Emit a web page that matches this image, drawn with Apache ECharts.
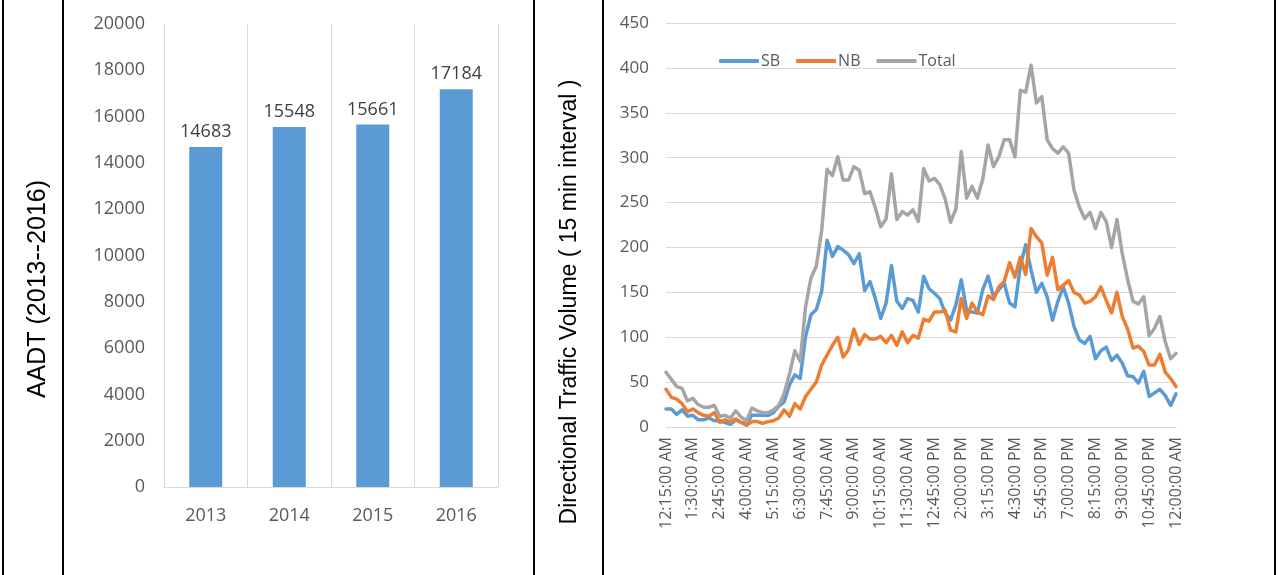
<!DOCTYPE html>
<html>
<head>
<meta charset="utf-8">
<script src="https://cdn.jsdelivr.net/npm/echarts@6/dist/echarts.min.js"></script>
<style>
  html, body { margin: 0; padding: 0; background: #fff; }
  #chart { width: 1279px; height: 575px; }
</style>
</head>
<body>
<div id="chart"></div>
<script>
// AADT by year (left panel)
const years = ["2013", "2014", "2015", "2016"];
const aadt = [14683, 15548, 15661, 17184];

// 15 minute counts, 12:15 AM .. 12:00 AM (right panel)
const sb = [20, 20, 14, 19, 12, 13, 8, 8, 10, 7, 7, 5, 3, 8, 5, 4, 13, 13, 13, 13,
  16, 23, 28, 47, 58, 54, 101, 125, 131, 151, 208, 190, 201, 197, 192, 182, 193, 152, 162, 143,
  121, 138, 180, 140, 132, 143, 141, 128, 168, 154, 149, 143, 127, 119, 136, 164, 130, 128, 127, 153,
  168, 145, 153, 160, 138, 134, 179, 203, 175, 150, 160, 145, 119, 140, 156, 138, 112, 97, 93, 101,
  76, 85, 89, 74, 80, 71, 57, 56, 49, 62, 34, 38, 42, 35, 24, 37];
const nb = [42, 33, 31, 26, 17, 20, 16, 13, 12, 16, 5, 8, 6, 9, 5, 2, 6, 6, 4, 6,
  7, 10, 19, 12, 26, 20, 34, 42, 50, 69, 80, 91, 100, 78, 86, 109, 92, 103, 98, 98,
  101, 94, 102, 91, 106, 94, 102, 99, 120, 118, 128, 128, 130, 108, 106, 143, 121, 138, 128, 125,
  146, 142, 156, 162, 183, 167, 189, 170, 221, 212, 205, 169, 189, 153, 158, 163, 150, 147, 138, 140,
  145, 156, 141, 127, 150, 123, 109, 88, 90, 84, 69, 69, 81, 61, 54, 45];
const total = [61, 53, 45, 43, 29, 32, 25, 22, 22, 24, 12, 13, 10, 18, 11, 7, 21, 18, 16, 16,
  19, 24, 37, 59, 85, 73, 134, 166, 179, 219, 287, 280, 301, 275, 275, 290, 286, 260, 262, 244,
  223, 232, 282, 231, 240, 236, 242, 229, 288, 274, 277, 270, 254, 228, 243, 307, 255, 268, 255, 276,
  314, 290, 301, 320, 320, 301, 375, 373, 403, 361, 368, 320, 310, 305, 312, 305, 264, 245, 232, 239,
  221, 239, 229, 200, 231, 193, 164, 140, 137, 145, 102, 110, 123, 95, 76, 82];

const timeLabel = function (m) {
  m = m % 1440;
  const h = Math.floor(m / 60);
  const mm = m % 60;
  const h12 = h % 12 || 12;
  return h12 + ":" + (mm < 10 ? "0" + mm : mm) + ":00 " + (h < 12 ? "AM" : "PM");
};
const times = [];
for (let i = 0; i < sb.length; i++) times.push(timeLabel(15 + 15 * i));

const FONT = "'Open Sans', sans-serif";
const GRID_COLOR = "#d9d9d9";
const TICK_COLOR = "#595959";

const chart = echarts.init(document.getElementById("chart"), null, { renderer: "canvas" });

// table borders of the original document
const vline = function (x) {
  return {
    type: "line",
    shape: { x1: x, y1: 0, x2: x, y2: 575 },
    style: { stroke: "#000", lineWidth: 2 },
  };
};

chart.setOption({
  backgroundColor: "#fff",
  animation: false,
  textStyle: { fontFamily: FONT },
  graphic: [
    vline(3), vline(63), vline(534), vline(603), vline(1275),
    {
      type: "text",
      x: 38, y: 289, rotation: Math.PI / 2,
      style: {
        text: "AADT (2013--2016)", fill: "#000",
        font: "25px 'Liberation Sans', Arial, sans-serif",
        align: "center", verticalAlign: "middle",
      },
    },
    {
      type: "text",
      x: 570, y: 302, rotation: Math.PI / 2,
      style: {
        text: "Directional Traffic Volume ( 15 min interval )", fill: "#000",
        font: "23px 'Liberation Sans', Arial, sans-serif",
        align: "center", verticalAlign: "middle",
      },
    },
  ],
  legend: {
    data: ["SB", "NB", "Total"],
    left: 714, top: 48,
    icon: "roundRect",
    itemWidth: 40, itemHeight: 4, itemGap: 16,
    textStyle: { fontSize: 16, color: TICK_COLOR, fontFamily: FONT, padding: [0, 0, 0, -3] },
  },
  grid: [
    { left: 164, top: 24, width: 334, height: 463 },
    { left: 666, top: 23, width: 510, height: 404 },
  ],
  xAxis: [
    {
      type: "category", gridIndex: 0, data: years,
      axisLine: { lineStyle: { color: GRID_COLOR } },
      axisTick: { show: false },
      splitLine: { show: true, lineStyle: { color: GRID_COLOR } },
      axisLabel: { fontSize: 18, color: TICK_COLOR, margin: 20 },
    },
    {
      type: "category", gridIndex: 1, data: times, boundaryGap: false,
      axisLine: { lineStyle: { color: GRID_COLOR } },
      axisTick: { show: false },
      axisLabel: { fontSize: 16, color: TICK_COLOR, rotate: 90, interval: 4, margin: 10 },
    },
  ],
  yAxis: [
    {
      type: "value", gridIndex: 0, min: 0, max: 20000, interval: 2000,
      axisLine: { show: false }, axisTick: { show: false },
      splitLine: { show: false },
      axisLabel: { fontSize: 18, color: TICK_COLOR, margin: 19, formatter: (v) => String(v) },
    },
    {
      type: "value", gridIndex: 1, min: 0, max: 450, interval: 50,
      axisLine: { show: false }, axisTick: { show: false },
      splitLine: { lineStyle: { color: GRID_COLOR } },
      axisLabel: { fontSize: 17, color: TICK_COLOR, margin: 17 },
    },
  ],
  series: [
    {
      type: "bar", xAxisIndex: 0, yAxisIndex: 0, data: aadt,
      barWidth: 33,
      itemStyle: { color: "#5b9bd5" },
      label: { show: true, position: "top", distance: 6, fontSize: 18, color: "#404040" },
    },
    {
      name: "SB", type: "line", xAxisIndex: 1, yAxisIndex: 1, data: sb,
      showSymbol: false, symbol: "none",
      lineStyle: { width: 3.5, color: "#5b9bd5", cap: "round", join: "round" },
      itemStyle: { color: "#5b9bd5" },
    },
    {
      name: "NB", type: "line", xAxisIndex: 1, yAxisIndex: 1, data: nb,
      showSymbol: false, symbol: "none",
      lineStyle: { width: 3.5, color: "#ed7d31", cap: "round", join: "round" },
      itemStyle: { color: "#ed7d31" },
    },
    {
      name: "Total", type: "line", xAxisIndex: 1, yAxisIndex: 1, data: total,
      showSymbol: false, symbol: "none",
      lineStyle: { width: 3.5, color: "#a5a5a5", cap: "round", join: "round" },
      itemStyle: { color: "#a5a5a5" },
    },
  ],
});
</script>
</body>
</html>
